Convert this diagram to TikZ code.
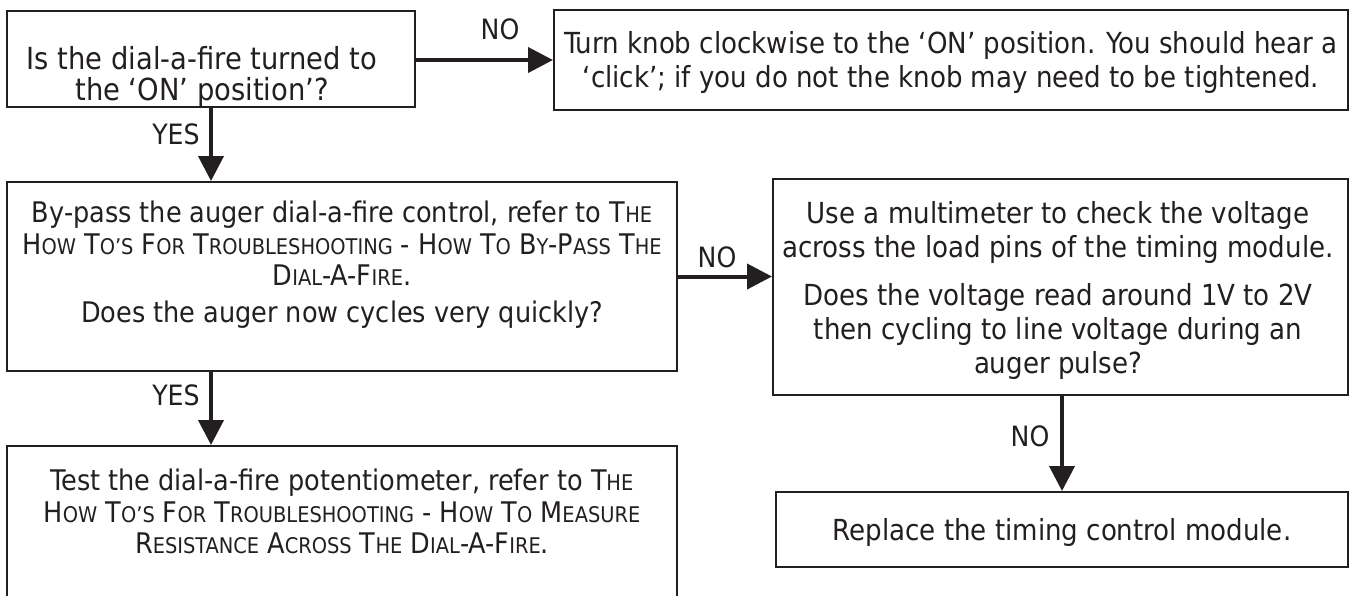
\documentclass[tikz,border=0pt]{standalone}
\usepackage{fontspec}
\setmainfont{DejaVu Sans Condensed}
\newfontfamily\smallcapfont{DejaVu Sans Condensed}[Scale=0.76]
\newcommand\lsc[1]{{\smallcapfont #1}}
\usetikzlibrary{arrows.meta}
\definecolor{ink}{RGB}{35,31,32}
\begin{document}
\begin{tikzpicture}[x=0.5pt,y=-0.5pt,
  box/.style={draw=ink, line width=1pt, inner sep=0pt},
  txt/.style={inner sep=0pt, align=center, text=ink, anchor=north},
  sfont/.style={font=\fontsize{14.2}{15.6}\selectfont},
  afont/.style={font=\fontsize{15.2}{15.6}\selectfont},
  bfont/.style={font=\fontsize{14.5}{17}\selectfont},
  lbl/.style={inner sep=0pt, text=ink, font=\fontsize{14}{14}\selectfont},
  arr/.style={draw=ink, line width=2pt, -{Triangle[width=12.5pt,length=12.5pt]}}]
\useasboundingbox (0,0) rectangle (1349,595);
\fill[white] (0,0) rectangle (1349,595);

% boxes
\node[box, minimum width=204pt, minimum height=48pt] (b1) at (211,59) {};
\node[box, minimum width=397pt, minimum height=50pt] (b2) at (951,60) {};
\node[box, minimum width=335pt, minimum height=94.5pt] (b3) at (342,276.5) {};
\node[box, minimum width=287.5pt, minimum height=108pt] (b4) at (1060.5,287) {};
\node[box, minimum width=286pt, minimum height=37.5pt] (b5) at (1062,529.5) {};
\node[box, minimum width=335pt, minimum height=80pt, anchor=north] (b6) at (342,445) {};

% texts
\node[txt, afont] (t1) at (202,46) {Is the dial-a-fire turned to\\the ‘ON’ position’?};
\node[txt, bfont] (t2) at (951,31) {Turn knob clockwise to the ‘ON’ position. You should hear a\\‘click’; if you do not the knob may need to be tightened.};
\node[txt, sfont] (t3) at (342,201) {By-pass the auger dial-a-fire control, refer to T\lsc{HE}\\H\lsc{OW} T\lsc{O’S} F\lsc{OR} T\lsc{ROUBLESHOOTING} - H\lsc{OW} T\lsc{O} B\lsc{Y}-P\lsc{ASS} T\lsc{HE}\\D\lsc{IAL}-A-F\lsc{IRE}.\\[3pt]Does the auger now cycles very quickly?};
\node[txt, bfont] (t4) at (1058,201) {Use a multimeter to check the voltage\\across the load pins of the timing module.\\[7pt]Does the voltage read around 1V to 2V\\then cycling to line voltage during an\\auger pulse?};
\node[txt, bfont] (t5) at (1062,518) {Replace the timing control module.};
\node[txt, sfont] (t6) at (342,469) {Test the dial-a-fire potentiometer, refer to T\lsc{HE}\\H\lsc{OW} T\lsc{O’S} F\lsc{OR} T\lsc{ROUBLESHOOTING} - H\lsc{OW} T\lsc{O} M\lsc{EASURE}\\R\lsc{ESISTANCE} A\lsc{CROSS} T\lsc{HE} D\lsc{IAL}-A-F\lsc{IRE}.};

% connectors
\draw[arr] (b1.east |- b2.west) -- (b2.west);
\draw[arr] (b1.south) -- (b1.south |- b3.north);
\draw[arr] (b3.east) -- (b3.east -| b4.west);
\draw[arr] (b3.south -| b1.south) -- (b6.north -| b1.south);
\draw[arr] (b4.south -| b5.north) -- (b5.north);

% labels
\node[lbl] (n1) at (500,29) {NO};
\node[lbl] (y1) at (176,134) {YES};
\node[lbl] (n2) at (717,257) {NO};
\node[lbl] (y2) at (176,395) {YES};
\node[lbl] (n3) at (1030,436) {NO};
\end{tikzpicture}
\end{document}
